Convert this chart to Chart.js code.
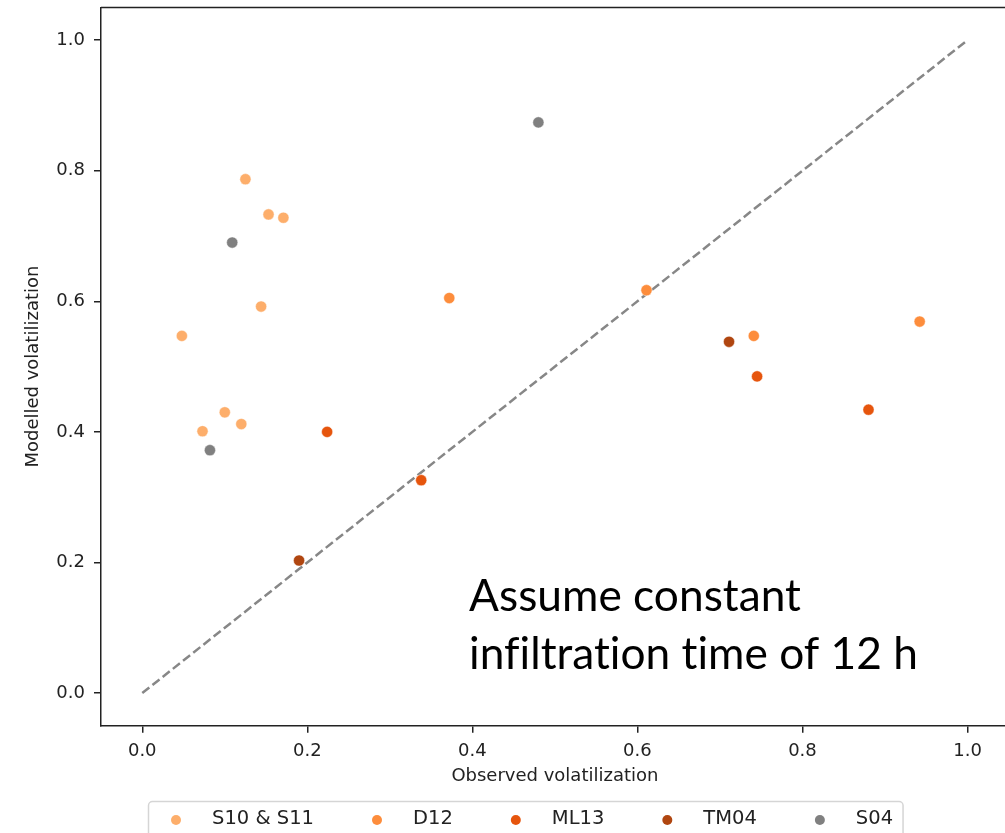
<!DOCTYPE html>
<html>
<head>
<meta charset="utf-8">
<script src="https://cdn.jsdelivr.net/npm/chart.js@4.4.0/dist/chart.umd.min.js"></script>
<style>
  html, body { margin: 0; padding: 0; background: #fff; overflow: hidden; }
  #wrap { position: absolute; left: 0; top: 0; width: 1015px; height: 833px; }
</style>
</head>
<body>
<div id="wrap"><canvas id="chart" width="1015" height="833"></canvas></div>
<script>
// values (observed x, modelled y)
const groupNames = ['S10 & S11', 'D12', 'ML13', 'TM04', 'S04'];
const groupColors = ['#fdae6b', '#fd8d3c', '#e6550d', '#b04610', '#808080'];

const s10Obs = [0.125, 0.153, 0.171, 0.144, 0.048, 0.100, 0.120, 0.073];
const s10Mod = [0.787, 0.733, 0.728, 0.592, 0.547, 0.430, 0.412, 0.401];

const d12Obs = [0.372, 0.611, 0.741, 0.942];
const d12Mod = [0.605, 0.617, 0.547, 0.569];

const ml13Obs = [0.224, 0.338, 0.745, 0.880];
const ml13Mod = [0.400, 0.326, 0.485, 0.434];

const tm04Obs = [0.190, 0.711];
const tm04Mod = [0.203, 0.538];

const s04Obs = [0.109, 0.082, 0.480];
const s04Mod = [0.690, 0.372, 0.874];

const tickValues = [0.0, 0.2, 0.4, 0.6, 0.8, 1.0];
const diagLine = [0, 1];
const noteLines = ['Assume constant', 'infiltration time of 12 h'];

const pairs = (xs, ys) => xs.map((v, i) => ({ x: v, y: ys[i] }));
const allObs = [s10Obs, d12Obs, ml13Obs, tm04Obs, s04Obs];
const allMod = [s10Mod, d12Mod, ml13Mod, tm04Mod, s04Mod];

const textColor = '#222';
const tickFont = { family: '"DejaVu Sans"', size: 18 };

let datasets = groupNames.map((name, i) => ({
    type: 'scatter',
    label: name,
    data: pairs(allObs[i], allMod[i]),
    backgroundColor: groupColors[i],
    borderColor: 'rgba(255,255,255,0.8)',
    borderWidth: 0.6,
    pointRadius: 5.6,
    pointHoverRadius: 5.6
}));
// 1:1 line goes last so it is drawn underneath the points
datasets.push({
    type: 'line',
    label: '1:1',
    data: pairs(diagLine, diagLine),
    borderColor: '#878787',
    borderWidth: 2.5,
    borderDash: [9, 4],
    pointRadius: 0,
    fill: false
});

// frame, legend and note (like the matplotlib figure)
const extras = {
    id: 'extras',
    afterDraw(chart) {
        const ctx = chart.ctx;
        const a = chart.chartArea;
        ctx.save();

        // top + right spines
        ctx.strokeStyle = textColor;
        ctx.lineWidth = 1.5;
        ctx.beginPath();
        ctx.moveTo(a.left, a.top);
        ctx.lineTo(a.right, a.top);
        ctx.lineTo(a.right, a.bottom);
        ctx.stroke();

        // note text, fitted to the width it has in the picture
        const xs = chart.scales.x, ys = chart.scales.y;
        const fam = 'Lato, "Open Sans", sans-serif';
        ctx.letterSpacing = '0.01px'; // no "ti" ligature
        ctx.font = '48px ' + fam;
        const w0 = ctx.measureText(noteLines[1]).width;
        const fs = 48 * 449 / w0;
        ctx.font = fs + 'px ' + fam;
        ctx.fillStyle = '#000';
        ctx.textAlign = 'left';
        ctx.textBaseline = 'alphabetic';
        const nx = xs.getPixelForValue(0.396);
        const ny = ys.getPixelForValue(0.125);
        ctx.fillText(noteLines[0], nx, ny);
        ctx.fillText(noteLines[1], nx, ny + 58);
        ctx.letterSpacing = '0px';

        // legend box below the axis
        ctx.font = '19.5px "DejaVu Sans"';
        const boxLeft = 148.5, boxTop = 801.5, cy = 820;
        let x = boxLeft + 27.5;
        const items = chart.data.datasets.filter(d => d.type === 'scatter');
        const placed = items.map(d => {
            const w = ctx.measureText(d.label).width;
            const p = { x: x, w: w, d: d };
            x += 36 + w + 63;
            return p;
        });
        const last = placed[placed.length - 1];
        const boxRight = last.x + 36 + last.w + 10;
        ctx.beginPath();
        ctx.roundRect(boxLeft, boxTop, boxRight - boxLeft, 60, 4);
        ctx.fillStyle = 'rgba(255,255,255,0.8)';
        ctx.fill();
        ctx.strokeStyle = '#d5d5d5';
        ctx.lineWidth = 1.5;
        ctx.stroke();

        placed.forEach(p => {
            ctx.beginPath();
            ctx.arc(p.x, cy, 5, 0, Math.PI * 2);
            ctx.fillStyle = p.d.backgroundColor;
            ctx.fill();
            ctx.fillStyle = textColor;
            ctx.textBaseline = 'middle';
            ctx.fillText(p.d.label, p.x + 36, cy - 1);
        });
        ctx.restore();
    }
};

const fixTicks = scale => { scale.ticks = tickValues.map(v => ({ value: v })); };
const noPad = s => { s.paddingLeft = 0; s.paddingRight = 0; s.paddingTop = 0; s.paddingBottom = 0; };

new Chart(document.getElementById('chart'), {
    data: { datasets: datasets },
    options: {
        responsive: false,
        animation: false,
        devicePixelRatio: 1,
        layout: { padding: { top: 7.5, right: 2, bottom: 0, left: 0 } },
        plugins: {
            legend: { display: false },
            tooltip: { enabled: false }
        },
        scales: {
            x: {
                type: 'linear',
                min: -0.05,
                max: 1.05,
                afterBuildTicks: fixTicks,
                afterFit: s => { s.height = 107.3; noPad(s); },
                grid: { drawOnChartArea: false, drawTicks: true, tickLength: 7, color: textColor, lineWidth: 1.5 },
                border: { display: true, color: textColor, width: 1.5 },
                ticks: { font: tickFont, color: textColor, padding: 8, callback: v => v.toFixed(1) },
                title: {
                    display: true,
                    text: 'Observed volatilization',
                    font: tickFont,
                    color: textColor,
                    padding: { top: 0, bottom: 46 }
                }
            },
            y: {
                type: 'linear',
                min: -0.05,
                max: 1.05,
                afterBuildTicks: fixTicks,
                afterFit: s => { s.width = 101; noPad(s); },
                grid: { drawOnChartArea: false, drawTicks: true, tickLength: 7, color: textColor, lineWidth: 1.5 },
                border: { display: true, color: textColor, width: 1.5 },
                ticks: { font: tickFont, color: textColor, padding: 9, callback: v => v.toFixed(1) },
                title: {
                    display: true,
                    text: 'Modelled volatilization',
                    font: tickFont,
                    color: textColor,
                    padding: { top: 23, bottom: 0 }
                }
            }
        }
    },
    plugins: [extras]
});
</script>
</body>
</html>
